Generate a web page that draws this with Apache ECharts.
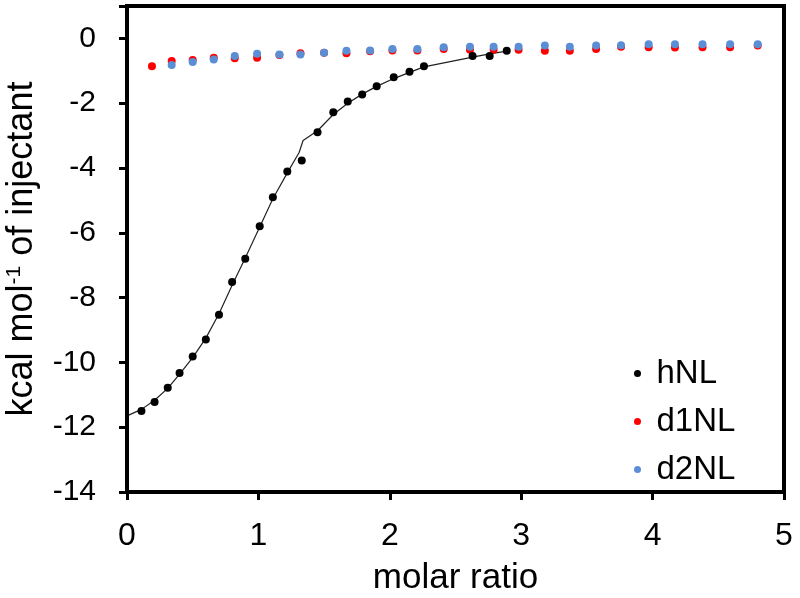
<!DOCTYPE html>
<html>
<head>
<meta charset="utf-8">
<script src="https://cdn.jsdelivr.net/npm/echarts@6/dist/echarts.min.js"></script>
<style>
html,body{margin:0;padding:0;background:#fff;}
#chart{width:800px;height:598px;}
</style>
</head>
<body>
<div id="chart"></div>
<script>
// hNL measured points
var hNL_x = [0.11,0.21,0.31,0.40,0.50,0.60,0.70,0.80,0.90,1.01,1.11,1.22,1.33,1.45,1.57,1.68,1.79,1.90,2.03,2.15,2.26,2.63,2.76,2.89];
var hNL_y = [-11.50,-11.22,-10.78,-10.33,-9.82,-9.29,-8.53,-7.52,-6.80,-5.80,-4.90,-4.11,-3.77,-2.90,-2.28,-1.95,-1.73,-1.48,-1.20,-1.03,-0.86,-0.54,-0.54,-0.38];
// hNL fit curve
var fit_x = [0,0.11,0.21,0.31,0.40,0.50,0.60,0.70,0.80,0.90,1.01,1.11,1.22,1.31,1.34,1.45,1.57,1.68,1.79,1.90,2.03,2.15,2.26,2.63,2.76,2.89];
var fit_y = [-11.65,-11.45,-11.17,-10.80,-10.36,-9.85,-9.25,-8.50,-7.62,-6.78,-5.82,-4.95,-4.15,-3.52,-3.15,-2.85,-2.35,-2.00,-1.72,-1.48,-1.24,-1.05,-0.88,-0.58,-0.48,-0.39];
// d1NL
var d1NL_x = [0.19,0.34,0.50,0.66,0.82,0.99,1.16,1.32,1.50,1.67,1.85,2.02,2.21,2.41,2.61,2.79,2.98,3.18,3.37,3.57,3.76,3.97,4.17,4.38,4.59,4.80];
var d1NL_y = [-0.86,-0.70,-0.67,-0.60,-0.61,-0.60,-0.51,-0.46,-0.44,-0.46,-0.40,-0.37,-0.37,-0.33,-0.35,-0.35,-0.35,-0.38,-0.38,-0.33,-0.26,-0.27,-0.28,-0.27,-0.27,-0.22];
// d2NL
var d2NL_x = [0.34,0.50,0.66,0.82,0.99,1.16,1.32,1.50,1.67,1.85,2.02,2.21,2.41,2.61,2.79,2.98,3.18,3.37,3.57,3.76,3.97,4.17,4.38,4.59,4.80];
var d2NL_y = [-0.82,-0.73,-0.65,-0.54,-0.47,-0.50,-0.50,-0.44,-0.38,-0.37,-0.33,-0.33,-0.27,-0.26,-0.26,-0.26,-0.22,-0.26,-0.22,-0.21,-0.18,-0.18,-0.18,-0.18,-0.18];

function zip(xs, ys){ return xs.map(function(x,i){ return [x, ys[i]]; }); }

var FONT = '"Liberation Sans", Arial, sans-serif';
var chart = echarts.init(document.getElementById('chart'), null, {renderer:'canvas'});
chart.setOption({
  animation: false,
  backgroundColor: '#fff',
  grid: {left:127, right:16, top:6, bottom:106, show:true, borderColor:'#000', borderWidth:4,
         backgroundColor:'rgba(0,0,0,0)', containLabel:false, outerBoundsMode:'none', z:10},
  legend: {
    orient:'vertical', left:629, top:352, itemGap:15,
    itemWidth:28, itemHeight:7,
    data:[{name:'hNL',icon:'circle'},{name:'d1NL',icon:'circle'},{name:'d2NL',icon:'circle'}],
    textStyle:{fontFamily:FONT, fontSize:33, color:'#000', lineHeight:30}
  },
  xAxis: {
    type:'value', min:0, max:5, interval:1, position:'bottom',
    name:'molar ratio', nameLocation:'middle', nameGap:69,
    nameTextStyle:{fontFamily:FONT, fontSize:35, color:'#000'},
    axisLine:{onZero:false, lineStyle:{color:'#000', width:3.5}},
    axisTick:{inside:false, length:8, lineStyle:{color:'#000', width:3}},
    axisLabel:{fontFamily:FONT, fontSize:32, color:'#000', margin:28},
    splitLine:{show:false}
  },
  yAxis: {
    type:'value', min:-14, max:1, interval:2, position:'left',
    name:'kcal mol{sup|-1} of injectant', nameLocation:'middle', nameGap:87, nameRotate:90,
    nameTextStyle:{fontFamily:FONT, fontSize:36, color:'#000',
      rich:{sup:{fontFamily:FONT, fontSize:21, color:'#000', verticalAlign:'top', lineHeight:21, padding:[0,0,15,0]}}},
    axisLine:{onZero:false, lineStyle:{color:'#000', width:3.5}},
    axisTick:{inside:false, length:8, lineStyle:{color:'#000', width:3}},
    axisLabel:{fontFamily:FONT, fontSize:30, color:'#000', margin:31,
      formatter:function(v){ return v > 0 ? '' : String(v); }},
    splitLine:{show:false}
  },
  series: [
    {name:'fit', type:'line', data:zip(fit_x, fit_y), showSymbol:false, symbol:'none',
     lineStyle:{color:'#222', width:1.2}, z:2, silent:true},
    {name:'d1NL', type:'scatter', data:zip(d1NL_x, d1NL_y), symbol:'circle', symbolSize:8,
     itemStyle:{color:'#ff0000', opacity:1}, z:3},
    {name:'d2NL', type:'scatter', data:zip(d2NL_x, d2NL_y), symbol:'circle', symbolSize:8,
     itemStyle:{color:'#5a8fd6', opacity:1}, z:4},
    {name:'hNL', type:'scatter', data:zip(hNL_x, hNL_y), symbol:'circle', symbolSize:8,
     itemStyle:{color:'#000', opacity:1}, z:5}
  ]
});
</script>
</body>
</html>
